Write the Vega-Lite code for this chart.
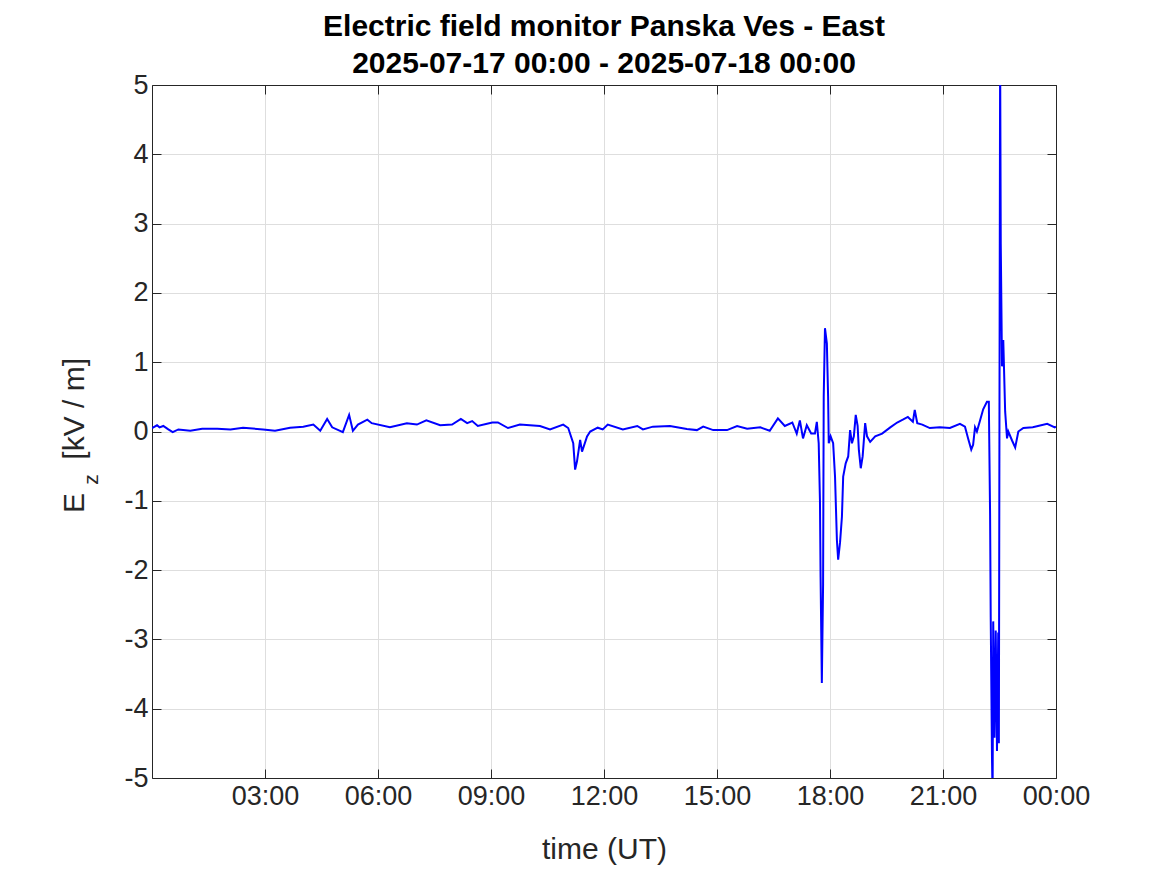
{
  "$schema": "https://vega.github.io/schema/vega-lite/v6.json",
  "width": 904,
  "height": 693,
  "autosize": {"type": "none"},
  "padding": {"left": 152, "top": 85, "right": 111, "bottom": 97},
  "background": "white",
  "title": {
    "text": ["Electric field monitor Panska Ves - East", "2025-07-17 00:00 - 2025-07-18 00:00"],
    "font": "Liberation Sans",
    "fontSize": 30,
    "fontWeight": "bold",
    "color": "#000000",
    "anchor": "middle",
    "lineHeight": 37,
    "offset": -8
  },
  "config": {
    "view": {"stroke": null},
    "axis": {
      "labelFont": "Liberation Sans",
      "titleFont": "Liberation Sans",
      "labelColor": "#262626",
      "titleColor": "#262626",
      "domainColor": "#262626",
      "tickColor": "#262626",
      "gridColor": "#dedede",
      "gridWidth": 1,
      "domainWidth": 1,
      "tickWidth": 1
    }
  },
  "data": {
    "values": [
      {"time": "2025-07-17T00:00Z", "ez": 0.05},
      {"time": "2025-07-17T00:08Z", "ez": 0.09},
      {"time": "2025-07-17T00:12Z", "ez": 0.06},
      {"time": "2025-07-17T00:18Z", "ez": 0.08},
      {"time": "2025-07-17T00:26Z", "ez": 0.03},
      {"time": "2025-07-17T00:33Z", "ez": -0.01},
      {"time": "2025-07-17T00:42Z", "ez": 0.03},
      {"time": "2025-07-17T01:01Z", "ez": 0.01},
      {"time": "2025-07-17T01:20Z", "ez": 0.04},
      {"time": "2025-07-17T01:44Z", "ez": 0.04},
      {"time": "2025-07-17T02:05Z", "ez": 0.03},
      {"time": "2025-07-17T02:25Z", "ez": 0.055},
      {"time": "2025-07-17T02:57Z", "ez": 0.03},
      {"time": "2025-07-17T03:16Z", "ez": 0.01},
      {"time": "2025-07-17T03:40Z", "ez": 0.055},
      {"time": "2025-07-17T04:01Z", "ez": 0.07},
      {"time": "2025-07-17T04:17Z", "ez": 0.1},
      {"time": "2025-07-17T04:28Z", "ez": 0.01},
      {"time": "2025-07-17T04:39Z", "ez": 0.18},
      {"time": "2025-07-17T04:47Z", "ez": 0.06},
      {"time": "2025-07-17T05:04Z", "ez": -0.01},
      {"time": "2025-07-17T05:14Z", "ez": 0.24},
      {"time": "2025-07-17T05:20Z", "ez": 0.01},
      {"time": "2025-07-17T05:28Z", "ez": 0.1},
      {"time": "2025-07-17T05:43Z", "ez": 0.17},
      {"time": "2025-07-17T05:50Z", "ez": 0.12},
      {"time": "2025-07-17T06:19Z", "ez": 0.06},
      {"time": "2025-07-17T06:46Z", "ez": 0.12},
      {"time": "2025-07-17T07:02Z", "ez": 0.1},
      {"time": "2025-07-17T07:17Z", "ez": 0.16},
      {"time": "2025-07-17T07:39Z", "ez": 0.09},
      {"time": "2025-07-17T07:58Z", "ez": 0.1},
      {"time": "2025-07-17T08:12Z", "ez": 0.18},
      {"time": "2025-07-17T08:22Z", "ez": 0.12},
      {"time": "2025-07-17T08:30Z", "ez": 0.15},
      {"time": "2025-07-17T08:39Z", "ez": 0.08},
      {"time": "2025-07-17T09:02Z", "ez": 0.13},
      {"time": "2025-07-17T09:11Z", "ez": 0.13},
      {"time": "2025-07-17T09:27Z", "ez": 0.05},
      {"time": "2025-07-17T09:46Z", "ez": 0.1},
      {"time": "2025-07-17T10:18Z", "ez": 0.08},
      {"time": "2025-07-17T10:34Z", "ez": 0.03},
      {"time": "2025-07-17T10:55Z", "ez": 0.1},
      {"time": "2025-07-17T11:03Z", "ez": 0.05},
      {"time": "2025-07-17T11:11Z", "ez": -0.17},
      {"time": "2025-07-17T11:14Z", "ez": -0.55},
      {"time": "2025-07-17T11:17Z", "ez": -0.43},
      {"time": "2025-07-17T11:22Z", "ez": -0.12},
      {"time": "2025-07-17T11:25Z", "ez": -0.29},
      {"time": "2025-07-17T11:33Z", "ez": -0.07},
      {"time": "2025-07-17T11:38Z", "ez": 0.0},
      {"time": "2025-07-17T11:50Z", "ez": 0.055},
      {"time": "2025-07-17T11:58Z", "ez": 0.03},
      {"time": "2025-07-17T12:06Z", "ez": 0.1},
      {"time": "2025-07-17T12:30Z", "ez": 0.03},
      {"time": "2025-07-17T12:53Z", "ez": 0.08},
      {"time": "2025-07-17T13:02Z", "ez": 0.03},
      {"time": "2025-07-17T13:18Z", "ez": 0.07},
      {"time": "2025-07-17T13:45Z", "ez": 0.08},
      {"time": "2025-07-17T14:12Z", "ez": 0.035},
      {"time": "2025-07-17T14:28Z", "ez": 0.02},
      {"time": "2025-07-17T14:38Z", "ez": 0.07},
      {"time": "2025-07-17T14:54Z", "ez": 0.02},
      {"time": "2025-07-17T15:16Z", "ez": 0.02},
      {"time": "2025-07-17T15:32Z", "ez": 0.08},
      {"time": "2025-07-17T15:48Z", "ez": 0.04},
      {"time": "2025-07-17T16:09Z", "ez": 0.06},
      {"time": "2025-07-17T16:24Z", "ez": 0.01},
      {"time": "2025-07-17T16:37Z", "ez": 0.19},
      {"time": "2025-07-17T16:48Z", "ez": 0.08},
      {"time": "2025-07-17T17:00Z", "ez": 0.13},
      {"time": "2025-07-17T17:07Z", "ez": -0.03},
      {"time": "2025-07-17T17:12Z", "ez": 0.16},
      {"time": "2025-07-17T17:17Z", "ez": -0.1},
      {"time": "2025-07-17T17:23Z", "ez": 0.09},
      {"time": "2025-07-17T17:30Z", "ez": -0.03},
      {"time": "2025-07-17T17:36Z", "ez": -0.03},
      {"time": "2025-07-17T17:39Z", "ez": 0.14},
      {"time": "2025-07-17T17:42Z", "ez": -0.17},
      {"time": "2025-07-17T17:44Z", "ez": -1.0},
      {"time": "2025-07-17T17:45Z", "ez": -2.1},
      {"time": "2025-07-17T17:47Z", "ez": -3.63},
      {"time": "2025-07-17T17:49Z", "ez": -2.2},
      {"time": "2025-07-17T17:50Z", "ez": 0.5},
      {"time": "2025-07-17T17:52Z", "ez": 1.49},
      {"time": "2025-07-17T17:55Z", "ez": 1.27},
      {"time": "2025-07-17T17:57Z", "ez": 0.5},
      {"time": "2025-07-17T17:58Z", "ez": -0.17},
      {"time": "2025-07-17T18:01Z", "ez": -0.07},
      {"time": "2025-07-17T18:05Z", "ez": -0.17},
      {"time": "2025-07-17T18:08Z", "ez": -0.65},
      {"time": "2025-07-17T18:11Z", "ez": -1.57},
      {"time": "2025-07-17T18:13Z", "ez": -1.85},
      {"time": "2025-07-17T18:16Z", "ez": -1.6},
      {"time": "2025-07-17T18:19Z", "ez": -1.23},
      {"time": "2025-07-17T18:21Z", "ez": -0.65},
      {"time": "2025-07-17T18:25Z", "ez": -0.46},
      {"time": "2025-07-17T18:29Z", "ez": -0.36},
      {"time": "2025-07-17T18:32Z", "ez": 0.02},
      {"time": "2025-07-17T18:35Z", "ez": -0.17},
      {"time": "2025-07-17T18:38Z", "ez": -0.07},
      {"time": "2025-07-17T18:41Z", "ez": 0.24},
      {"time": "2025-07-17T18:44Z", "ez": 0.08},
      {"time": "2025-07-17T18:46Z", "ez": -0.27},
      {"time": "2025-07-17T18:49Z", "ez": -0.53},
      {"time": "2025-07-17T18:52Z", "ez": -0.36},
      {"time": "2025-07-17T18:56Z", "ez": 0.12},
      {"time": "2025-07-17T18:59Z", "ez": -0.07},
      {"time": "2025-07-17T19:04Z", "ez": -0.15},
      {"time": "2025-07-17T19:12Z", "ez": -0.07},
      {"time": "2025-07-17T19:23Z", "ez": -0.03},
      {"time": "2025-07-17T19:36Z", "ez": 0.06},
      {"time": "2025-07-17T19:47Z", "ez": 0.13},
      {"time": "2025-07-17T19:56Z", "ez": 0.17},
      {"time": "2025-07-17T20:04Z", "ez": 0.21},
      {"time": "2025-07-17T20:12Z", "ez": 0.14},
      {"time": "2025-07-17T20:15Z", "ez": 0.31},
      {"time": "2025-07-17T20:19Z", "ez": 0.12},
      {"time": "2025-07-17T20:27Z", "ez": 0.1},
      {"time": "2025-07-17T20:39Z", "ez": 0.05},
      {"time": "2025-07-17T20:55Z", "ez": 0.06},
      {"time": "2025-07-17T21:11Z", "ez": 0.05},
      {"time": "2025-07-17T21:27Z", "ez": 0.11},
      {"time": "2025-07-17T21:35Z", "ez": 0.07},
      {"time": "2025-07-17T21:40Z", "ez": -0.1},
      {"time": "2025-07-17T21:45Z", "ez": -0.26},
      {"time": "2025-07-17T21:48Z", "ez": -0.19},
      {"time": "2025-07-17T21:51Z", "ez": 0.06},
      {"time": "2025-07-17T21:54Z", "ez": 0.0},
      {"time": "2025-07-17T21:59Z", "ez": 0.16},
      {"time": "2025-07-17T22:04Z", "ez": 0.32},
      {"time": "2025-07-17T22:10Z", "ez": 0.43},
      {"time": "2025-07-17T22:13Z", "ez": 0.43},
      {"time": "2025-07-17T22:15Z", "ez": -1.19},
      {"time": "2025-07-17T22:16Z", "ez": -2.68},
      {"time": "2025-07-17T22:18Z", "ez": -4.68},
      {"time": "2025-07-17T22:19Z", "ez": -5.3},
      {"time": "2025-07-17T22:20Z", "ez": -2.74},
      {"time": "2025-07-17T22:22Z", "ez": -4.42},
      {"time": "2025-07-17T22:24Z", "ez": -2.87},
      {"time": "2025-07-17T22:26Z", "ez": -4.61},
      {"time": "2025-07-17T22:28Z", "ez": -2.9},
      {"time": "2025-07-17T22:29Z", "ez": -4.5},
      {"time": "2025-07-17T22:31Z", "ez": 5.5},
      {"time": "2025-07-17T22:32Z", "ez": 2.71},
      {"time": "2025-07-17T22:34Z", "ez": 0.94},
      {"time": "2025-07-17T22:36Z", "ez": 1.32},
      {"time": "2025-07-17T22:39Z", "ez": 0.29},
      {"time": "2025-07-17T22:42Z", "ez": -0.1},
      {"time": "2025-07-17T22:44Z", "ez": 0.0},
      {"time": "2025-07-17T22:50Z", "ez": -0.13},
      {"time": "2025-07-17T22:55Z", "ez": -0.23},
      {"time": "2025-07-17T23:00Z", "ez": 0.0},
      {"time": "2025-07-17T23:08Z", "ez": 0.05},
      {"time": "2025-07-17T23:23Z", "ez": 0.06},
      {"time": "2025-07-17T23:46Z", "ez": 0.11},
      {"time": "2025-07-17T23:58Z", "ez": 0.06},
      {"time": "2025-07-18T00:00Z", "ez": 0.07}
    ]
  },
  "layer": [
    {
      "mark": {"type": "line", "color": "#0000ff", "strokeWidth": 2, "clip": true},
      "encoding": {
        "x": {
          "field": "time",
          "type": "temporal",
          "scale": {"type": "utc", "domain": [{"year": 2025, "month": 7, "date": 17, "utc": true}, {"year": 2025, "month": 7, "date": 18, "utc": true}]},
          "axis": {
            "orient": "bottom",
            "title": "time (UT)",
            "titleFontSize": 30,
            "titleFontWeight": "normal",
            "titlePadding": 25,
            "labelFontSize": 27,
            "labelPadding": 14,
            "labelExpr": "utcFormat(datum.value, '%H:%M')",
            "values": [
              {"year": 2025, "month": 7, "date": 17, "hours": 3, "utc": true},
              {"year": 2025, "month": 7, "date": 17, "hours": 6, "utc": true},
              {"year": 2025, "month": 7, "date": 17, "hours": 9, "utc": true},
              {"year": 2025, "month": 7, "date": 17, "hours": 12, "utc": true},
              {"year": 2025, "month": 7, "date": 17, "hours": 15, "utc": true},
              {"year": 2025, "month": 7, "date": 17, "hours": 18, "utc": true},
              {"year": 2025, "month": 7, "date": 17, "hours": 21, "utc": true},
              {"year": 2025, "month": 7, "date": 18, "hours": 0, "utc": true}
            ],
            "tickSize": -9,
            "grid": true,
            "labelFlush": false,
            "labelOverlap": false
          }
        },
        "y": {
          "field": "ez",
          "type": "quantitative",
          "scale": {"domain": [-5, 5], "nice": false, "zero": false},
          "axis": {
            "orient": "left",
            "title": "E\u00a0\u00a0\u00a0\u00a0[kV / m]",
            "titleFontSize": 30,
            "titleFontWeight": "normal",
            "titleAngle": -90,
            "titleBaseline": "alphabetic",
            "titleAlign": "center",
            "titleX": -69,
            "titleY": 350,
            "labelFontSize": 27,
            "labelPadding": 13,
            "labelExpr": "'' + datum.value",
            "values": [-5, -4, -3, -2, -1, 0, 1, 2, 3, 4, 5],
            "tickSize": -9,
            "grid": true,
            "labelFlush": false,
            "labelOverlap": false
          }
        }
      }
    },
    {
      "mark": {"type": "line", "opacity": 0, "clip": true},
      "encoding": {
        "x": {
          "field": "time",
          "type": "temporal",
          "axis": {
            "orient": "top",
            "title": null,
            "labels": false,
            "grid": false,
            "tickSize": -9,
            "values": [
              {"year": 2025, "month": 7, "date": 17, "hours": 3, "utc": true},
              {"year": 2025, "month": 7, "date": 17, "hours": 6, "utc": true},
              {"year": 2025, "month": 7, "date": 17, "hours": 9, "utc": true},
              {"year": 2025, "month": 7, "date": 17, "hours": 12, "utc": true},
              {"year": 2025, "month": 7, "date": 17, "hours": 15, "utc": true},
              {"year": 2025, "month": 7, "date": 17, "hours": 18, "utc": true},
              {"year": 2025, "month": 7, "date": 17, "hours": 21, "utc": true},
              {"year": 2025, "month": 7, "date": 18, "hours": 0, "utc": true}
            ]
          }
        },
        "y": {
          "field": "ez",
          "type": "quantitative",
          "axis": {
            "orient": "right",
            "title": null,
            "labels": false,
            "grid": false,
            "tickSize": -9,
            "values": [-5, -4, -3, -2, -1, 0, 1, 2, 3, 4, 5]
          }
        }
      }
    },
    {
      "mark": {"type": "line", "opacity": 0, "clip": true},
      "encoding": {
        "x": {"field": "time", "type": "temporal", "axis": null},
        "y": {
          "field": "ez",
          "type": "quantitative",
          "axis": {
            "orient": "left",
            "title": "z",
            "titleFontSize": 21,
            "titleFontWeight": "normal",
            "titleAngle": -90,
            "titleBaseline": "alphabetic",
            "titleAlign": "center",
            "titleX": -55,
            "titleY": 394,
            "labels": false,
            "ticks": false,
            "domain": false,
            "grid": false
          }
        }
      }
    }
  ],
  "resolve": {"axis": {"x": "independent", "y": "independent"}}
}
